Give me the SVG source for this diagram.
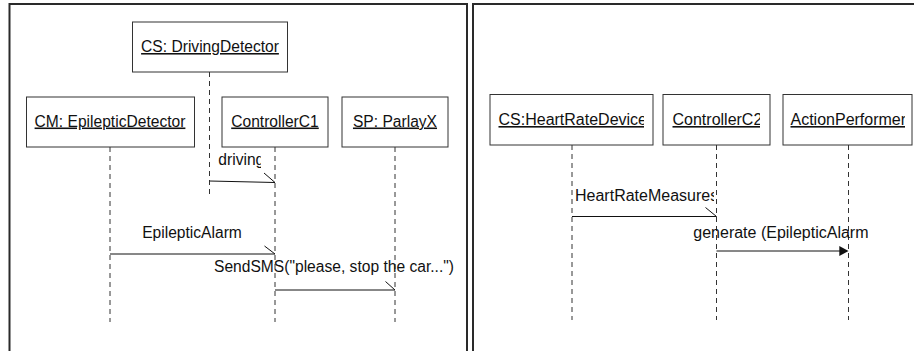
<svg xmlns="http://www.w3.org/2000/svg" width="914" height="351" viewBox="0 0 914 351">
<style>
.frame{fill:none;stroke:#2a2a2a;stroke-width:2}
.box{fill:#fff;stroke:#333;stroke-width:1}
.life{stroke:#333;stroke-width:1;stroke-dasharray:5 4;fill:none}
.msg{stroke:#111;stroke-width:1;fill:none}
.lbl{font-family:"Liberation Sans",Arial,sans-serif;font-size:15.6px;fill:#111}
.lblr{font-family:"Liberation Sans",Arial,sans-serif;font-size:16px;fill:#111}
.u{text-decoration:underline}
</style>
<defs>
<clipPath id="c-hr"><rect x="490" y="94" width="154" height="51"/></clipPath>
<clipPath id="c-c2"><rect x="663" y="94" width="97" height="51"/></clipPath>
<clipPath id="c-ap"><rect x="783" y="94" width="122" height="51"/></clipPath>
<clipPath id="c-drv"><rect x="210" y="148" width="51" height="25"/></clipPath>
<clipPath id="c-hrm"><rect x="572" y="180" width="142" height="26"/></clipPath>
<clipPath id="c-gen"><rect x="690" y="222" width="178" height="24"/></clipPath>
</defs>
<rect width="914" height="351" fill="#fff"/>
<g id="frames">
<path class="frame" d="M9.5,351 V4 H467 V351"/>
<path class="frame" d="M473,351 V4 H916"/>
</g>
<g id="lifelines">
<line class="life" x1="209.5" y1="72" x2="209.5" y2="197"/>
<line class="life" x1="110" y1="147" x2="110" y2="322"/>
<line class="life" x1="275" y1="147" x2="275" y2="322"/>
<line class="life" x1="395" y1="147" x2="395" y2="322"/>
<line class="life" x1="572" y1="145" x2="572" y2="320"/>
<line class="life" x1="716.5" y1="145" x2="716.5" y2="320"/>
<line class="life" x1="848.5" y1="145" x2="848.5" y2="320"/>
</g>
<g id="n-drivingdetector">
<rect class="box" x="132.5" y="22" width="155" height="50"/>
<text class="lbl u" x="210" y="52" text-anchor="middle">CS: DrivingDetector</text>
</g>
<g id="n-epilepticdetector">
<rect class="box" x="26.5" y="97" width="168" height="50"/>
<text class="lbl u" x="110" y="126.5" text-anchor="middle">CM: EpilepticDetector</text>
</g>
<g id="n-controllerc1">
<rect class="box" x="222" y="97" width="106" height="50"/>
<text class="lbl u" x="275" y="126.5" text-anchor="middle">ControllerC1</text>
</g>
<g id="n-parlayx">
<rect class="box" x="342" y="97" width="106" height="50"/>
<text class="lbl u" x="395" y="126.5" text-anchor="middle">SP: ParlayX</text>
</g>
<g id="n-heartratedevice">
<rect class="box" x="490" y="94.5" width="163" height="50.5"/>
<text class="lblr u" x="498.5" y="125" clip-path="url(#c-hr)">CS:HeartRateDevice</text>
</g>
<g id="n-controllerc2">
<rect class="box" x="663" y="94.5" width="107" height="50.5"/>
<text class="lblr u" x="672.5" y="125" clip-path="url(#c-c2)">ControllerC2</text>
</g>
<g id="n-actionperformer">
<rect class="box" x="783" y="94.5" width="129" height="50.5"/>
<text class="lblr u" x="790.5" y="125" clip-path="url(#c-ap)">ActionPerformer</text>
</g>
<g id="connectors">
<path class="msg" d="M209.5,181 L275,182.5 M264,173 L275,182.5"/>
<text class="lbl" x="218.3" y="165" clip-path="url(#c-drv)">driving</text>
<path class="msg" d="M110,254 H275 M264.5,246 L275,254"/>
<text class="lbl" x="192" y="237.7" text-anchor="middle">EpilepticAlarm</text>
<path class="msg" d="M275,290 H395 M385.5,281.5 L395,290"/>
<text class="lbl" x="334" y="271.7" text-anchor="middle">SendSMS("please, stop the car...")</text>
<path class="msg" d="M572,216.5 H716.5 M705.5,207.5 L716.5,216.5"/>
<text class="lblr" x="575" y="200.7" clip-path="url(#c-hrm)">HeartRateMeasures</text>
<path class="msg" d="M716.5,251 H840"/>
<polygon points="839.3,246 848.5,251 839.3,256" fill="#111"/>
<text class="lblr" x="693.3" y="238.3" clip-path="url(#c-gen)">generate (EpilepticAlarm)</text>
</g>
</svg>
